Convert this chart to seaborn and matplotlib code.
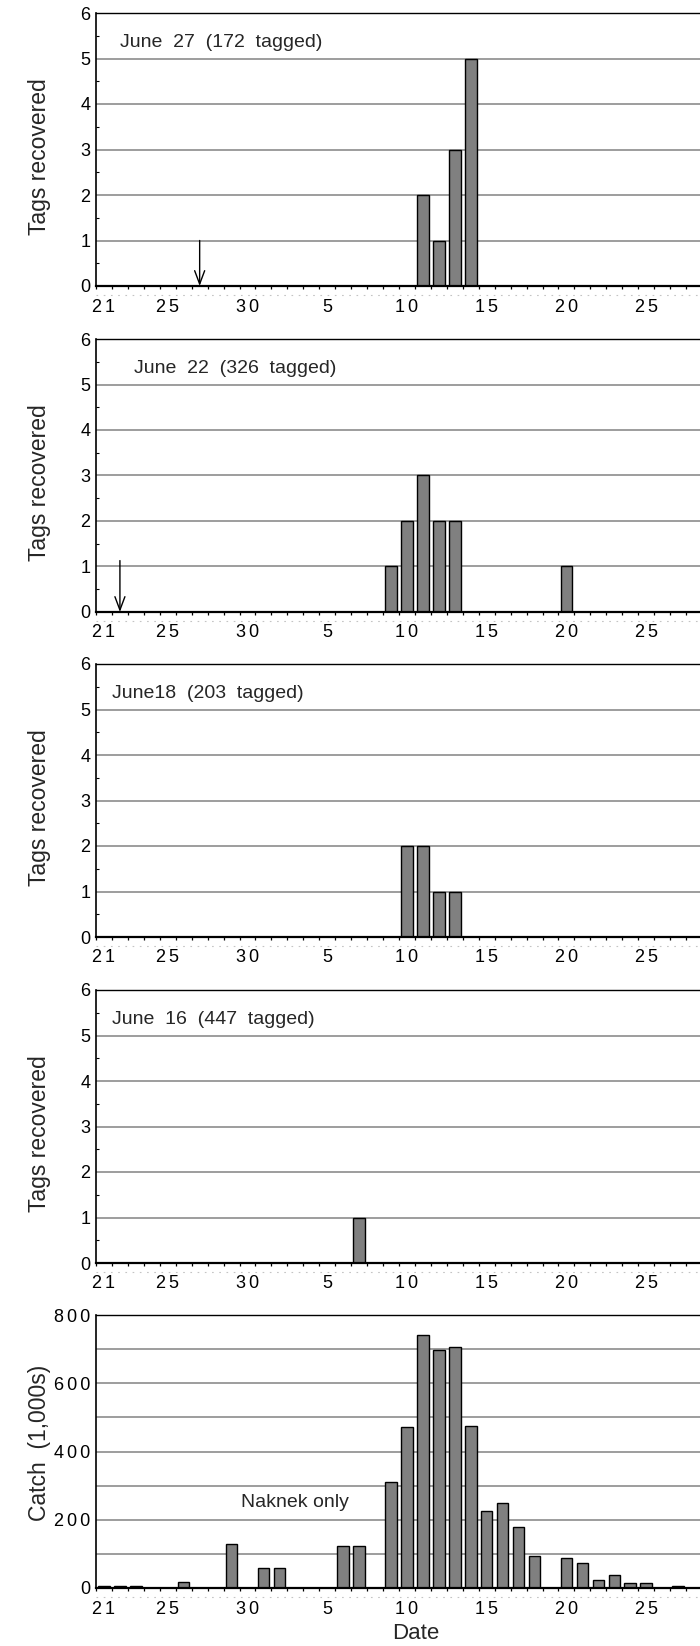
import numpy as np
import pandas as pd
import matplotlib
matplotlib.use("Agg")
import matplotlib.pyplot as plt
import seaborn as sns

# ---------------- data ----------------
june_days = [21, 22, 23, 24, 25, 26, 27, 28, 29, 30]
july_days = [1, 2, 3, 4, 5, 6, 7, 8, 9, 10, 11, 12, 13, 14, 15, 16, 17, 18, 19,
             20, 21, 22, 23, 24, 25, 26, 27, 28]
dates = [f"6/{d}" for d in june_days] + [f"7/{d}" for d in july_days]

tick_dates = ["6/21", "6/25", "6/30", "7/5", "7/10", "7/15", "7/20", "7/25"]
tick_labels = ["21", "25", "30", "5", "10", "15", "20", "25"]

#               J21 ... J30 | J1 ... J28
tags_jun27 = [0, 0, 0, 0, 0, 0, 0, 0, 0, 0, 0, 0, 0, 0, 0, 0, 0, 0, 0, 0, 2, 1, 3, 5, 0, 0, 0, 0, 0, 0, 0, 0, 0, 0, 0, 0, 0, 0]
tags_jun22 = [0, 0, 0, 0, 0, 0, 0, 0, 0, 0, 0, 0, 0, 0, 0, 0, 0, 0, 1, 2, 3, 2, 2, 0, 0, 0, 0, 0, 0, 1, 0, 0, 0, 0, 0, 0, 0, 0]
tags_jun18 = [0, 0, 0, 0, 0, 0, 0, 0, 0, 0, 0, 0, 0, 0, 0, 0, 0, 0, 0, 2, 2, 1, 1, 0, 0, 0, 0, 0, 0, 0, 0, 0, 0, 0, 0, 0, 0, 0]
tags_jun16 = [0, 0, 0, 0, 0, 0, 0, 0, 0, 0, 0, 0, 0, 0, 0, 0, 1, 0, 0, 0, 0, 0, 0, 0, 0, 0, 0, 0, 0, 0, 0, 0, 0, 0, 0, 0, 0, 0]

catch = [5, 5, 5, 0, 0, 18, 0, 0, 130, 0,
         58, 58, 0, 0, 0, 124, 124, 0, 311, 472,
         740, 696, 706, 475, 226, 249, 180, 94, 0, 89,
         74, 23, 39, 16, 16, 0, 5, 0]

panel_titles = ["June  27  (172  tagged)", "June  22  (326  tagged)",
                "June18  (203  tagged)", "June  16  (447  tagged)"]
release_dates = ["6/27", "6/22", None, None]
arrow_tops = [1.0, 1.13, None, None]
title_x = [1.0, 1.9, 0.5, 0.5]

# ---------------- style ----------------
sns.set_theme(style="white")
plt.rcParams['font.family'] = ['Liberation Sans', 'DejaVu Sans']

GAP = "\u2006"


def spaced(s):
    return GAP.join(list(s))


W, H = 700, 1646
fig = plt.figure(figsize=(W / 100, H / 100), dpi=100)

bottoms_px = [286, 612, 937, 1263, 1588]
ax_h_px = 273
left_px = 96
ax_w_px = 606

bar_gray = "#808080"
grid_gray = "#8c8c8c"


def style_axis(ax):
    ax.set_xlim(-0.5, len(dates) - 0.5)
    ax.spines['right'].set_visible(False)
    ax.spines['top'].set_linewidth(1.0)
    ax.spines['left'].set_linewidth(1.2)
    ax.spines['bottom'].set_linewidth(1.6)
    for s in ['top', 'left', 'bottom']:
        ax.spines[s].set_color('black')
    ax.set_xticks(np.arange(-0.5, len(dates)), labels=[])
    ax.set_xticks([dates.index(d) for d in tick_dates],
                  labels=[spaced(t) for t in tick_labels], minor=True)
    ax.tick_params(axis='x', which='major', direction='out', length=2.5, width=0.9,
                   color='black', bottom=True)
    ax.tick_params(axis='x', which='minor', length=0, pad=9, labelsize=13,
                   labelcolor='black', bottom=True)
    ax.xaxis.grid(False, which='both')
    ax.set_axisbelow(True)
    ax.plot([-0.5, len(dates) - 0.5], [-0.034, -0.034], transform=ax.get_xaxis_transform(),
            ls=(0, (1.5, 5)), color='#c4c4c4', lw=0.8, clip_on=False)


all_tags = [tags_jun27, tags_jun22, tags_jun18, tags_jun16]

for i in range(5):
    ax = fig.add_axes([left_px / W, 1 - bottoms_px[i] / H, ax_w_px / W, ax_h_px / H])
    vals = all_tags[i] if i < 4 else catch
    df = pd.DataFrame({"date": dates, "value": vals})
    sns.barplot(data=df, x="date", y="value", order=dates, color=bar_gray, saturation=1,
                edgecolor="black", linewidth=1.0, width=0.72, errorbar=None, ax=ax)
    ax.set_xlabel("")
    style_axis(ax)
    if i < 4:
        ax.set_ylim(0, 6)
        ax.set_yticks(np.arange(0, 7), labels=[str(v) for v in range(7)])
        ax.set_yticks(np.arange(0.5, 6, 1), minor=True)
        ax.tick_params(axis='y', which='major', length=0, pad=4, labelsize=13,
                       labelcolor='black')
        ax.tick_params(axis='y', which='minor', direction='in', length=2.5, width=0.8,
                       color='black', left=True)
        ax.yaxis.grid(True, which='major', color=grid_gray, lw=1.2)
        ax.set_ylabel("Tags recovered", fontsize=16.5)
        ax.yaxis.label.set_va('center')
        ax.yaxis.set_label_coords(-0.093, 0.475)
        ax.text(title_x[i], 5.36, panel_titles[i], fontsize=14, ha='left', va='center')
        if release_dates[i] is not None:
            xr = dates.index(release_dates[i])
            ax.annotate("", xy=(xr, 0), xytext=(xr, arrow_tops[i]),
                        arrowprops=dict(arrowstyle="->,head_length=0.8,head_width=0.3",
                                        color="black", lw=1.0, shrinkA=0, shrinkB=0),
                        annotation_clip=False)
    else:
        ax.set_ylim(0, 800)
        ax.set_yticks(np.arange(0, 801, 200),
                      labels=[spaced(str(v)) for v in range(0, 801, 200)])
        ax.set_yticks(np.arange(100, 800, 200), minor=True)
        ax.tick_params(axis='y', which='major', length=0, pad=4, labelsize=13,
                       labelcolor='black')
        ax.tick_params(axis='y', which='minor', length=0)
        ax.yaxis.grid(True, which='both', color=grid_gray, lw=1.2)
        ax.set_ylabel("Catch  (1,000s)", fontsize=16.5)
        ax.yaxis.label.set_va('center')
        ax.yaxis.set_label_coords(-0.093, 0.53)
        ax.text(8.6, 252, "Naknek only", fontsize=14, ha='left', va='center')
        ax.set_xlabel("Date", fontsize=16)
        ax.xaxis.set_label_coords(0.528, -0.165)
        ax.xaxis.label.set_va('center')

fig.savefig("out.png", dpi=100)
